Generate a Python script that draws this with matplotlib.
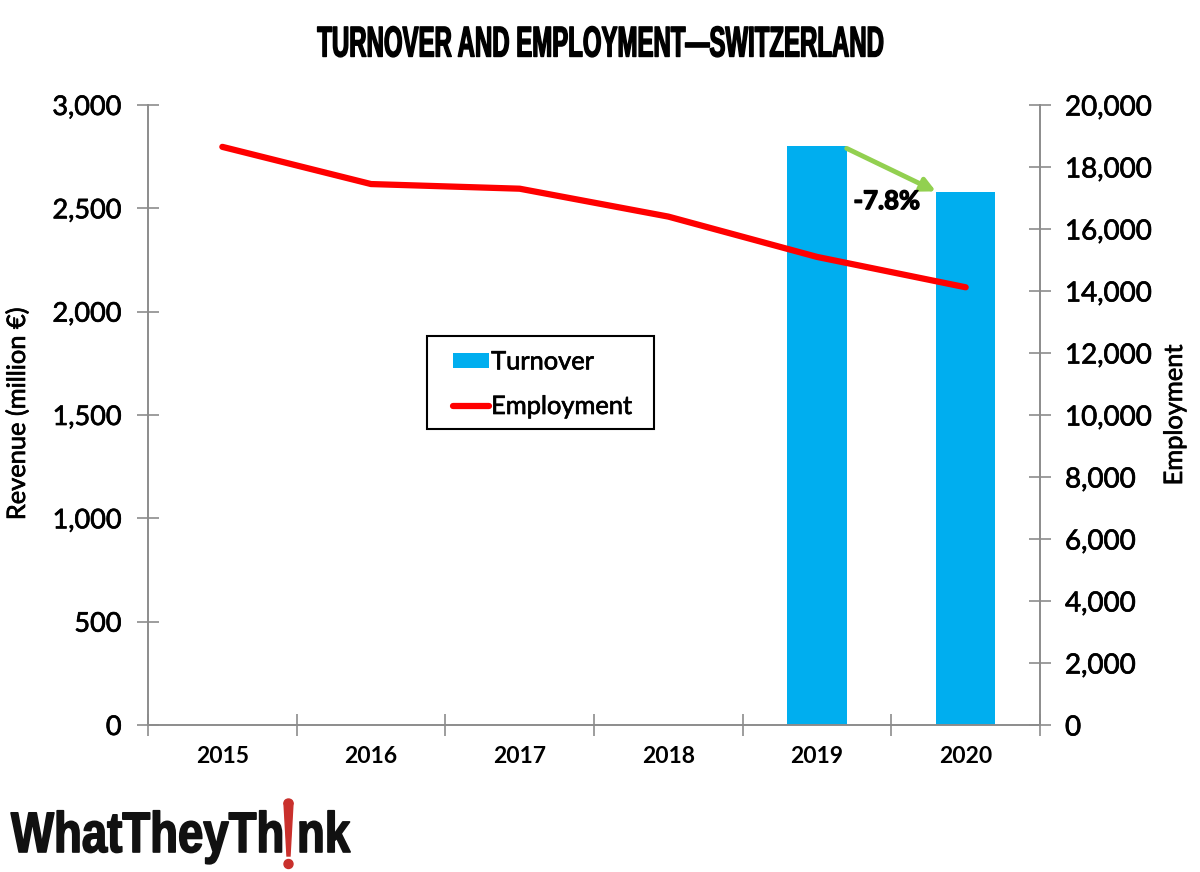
import numpy as np
import matplotlib
matplotlib.use('Agg')
import matplotlib.pyplot as plt
import matplotlib.patheffects as pe
from matplotlib.patches import Ellipse, Polygon, Rectangle
from matplotlib.transforms import Affine2D

years = ['2015', '2016', '2017', '2018', '2019', '2020']
turnover_years = ['2019', '2020']
turnover = [2800, 2580]
employment = [18650, 17450, 17300, 16400, 15100, 14120]
rev_ticks = [0, 500, 1000, 1500, 2000, 2500, 3000]
emp_ticks = [0, 2000, 4000, 6000, 8000, 10000, 12000, 14000, 16000, 18000, 20000]

plt.rcParams['font.family'] = ['Lato', 'DejaVu Sans']
grey = '#8c8c8c'
# thin outline, the regular weight looks too light next to the reference
medium = [pe.withStroke(linewidth=0.5, foreground='black')]


# squeezes a text sideways, no condensed headline font is installed
class Squeeze(pe.AbstractPathEffect):
    def __init__(self, cx, sx, lw):
        super().__init__()
        self.cx = cx
        self.sx = sx
        self.lw = lw

    def draw_path(self, renderer, gc, tpath, affine, rgbFace=None):
        squeeze = Affine2D().translate(-self.cx, 0).scale(self.sx, 1).translate(self.cx, 0)
        gc0 = renderer.new_gc()
        gc0.copy_properties(gc)
        gc0.set_foreground(rgbFace)
        gc0.set_linewidth(self.lw)
        renderer.draw_path(gc0, tpath, affine + squeeze, rgbFace)
        gc0.restore()


fig = plt.figure(figsize=(12, 8.72), dpi=100)
ax = fig.add_axes([148/1200, 1-725/872, (1040-148)/1200, (725-105)/872])
x = np.arange(len(years))
ax.bar([years.index(y) for y in turnover_years], turnover, width=0.4, color='#00aeef', label='Turnover')
ax.set_xlim(-0.5, 5.5)
ax.set_ylim(0, 3000)
ax.set_yticks(rev_ticks)
ax.set_yticklabels([f'{v:,}' for v in rev_ticks], fontsize=19.5, path_effects=medium)
ax.set_xticks(np.arange(-0.5, 6, 1))
ax.set_xticklabels([])
ax.set_xticks(x, minor=True)
ax.set_xticklabels(years, minor=True, fontsize=16.5, fontweight='bold')
ax.tick_params(axis='x', which='minor', length=0, pad=15)
ax.tick_params(axis='x', which='major', direction='inout', length=16, color=grey, width=1.2)
ax.tick_params(axis='y', direction='inout', length=16, color=grey, width=1.2, pad=11)
ax.set_ylabel('Revenue (million €)', fontsize=18.3, path_effects=medium)
ax.yaxis.set_label_coords((29-148)/892, (725-414)/620)
ax.spines['top'].set_visible(False)
for s in ['left', 'right', 'bottom']:
    ax.spines[s].set_color(grey)
    ax.spines[s].set_linewidth(1.2)

ax2 = ax.twinx()
ax2.plot(x, employment, color='#ff0000', lw=4.5, solid_capstyle='round', label='Employment')
ax2.set_ylim(0, 20000)
ax2.set_yticks(emp_ticks)
ax2.set_yticklabels([f'{v:,}' for v in emp_ticks], fontsize=20, path_effects=medium)
ax2.tick_params(axis='y', direction='inout', length=16, color=grey, width=1.2, pad=10)
ax2.set_ylabel('Employment', fontsize=18.3, path_effects=medium)
ax2.yaxis.set_label_coords((1163-148)/892, (725-415)/620)
ax2.spines['top'].set_visible(False)
for s in ['left', 'right', 'bottom']:
    ax2.spines[s].set_color(grey)
    ax2.spines[s].set_linewidth(1.2)

# change arrow between the two bars
ax.annotate('', xy=(4.8, 2582), xytext=(4.2, 2790),
            arrowprops=dict(arrowstyle='-|>', color='#92d050', lw=3.5, mutation_scale=20, shrinkA=0, shrinkB=0))
ax.text(4.47, 2535, '-7.8%', fontsize=18.5, fontweight='bold', ha='center', va='center',
        path_effects=[pe.withStroke(linewidth=1.0, foreground='black')])

# legend frame drawn apart, its padding differs left/right and top/bottom
ax2.add_patch(Rectangle((427/1200, 1-429/872), 227/1200, 93/872, transform=fig.transFigure,
                        facecolor='white', edgecolor='black', lw=1.5, zorder=4, clip_on=False))
h1, l1 = ax.get_legend_handles_labels()
h2, l2 = ax2.get_legend_handles_labels()
leg = ax2.legend(h1 + h2, l1 + l2, loc='lower left', bbox_to_anchor=((453-148)/892, (725-418)/620),
                 borderaxespad=0, frameon=False, handlelength=1.4, handleheight=0.5,
                 handletextpad=0.1, borderpad=0, labelspacing=0.85,
                 prop={'size': 18.3})
for t in leg.get_texts():
    t.set_path_effects(medium)

title_cx = 600
fig.text(title_cx/1200, 1-45.5/872, 'TURNOVER AND EMPLOYMENT—SWITZERLAND', ha='center', va='center',
         fontsize=31, family=['Liberation Sans', 'DejaVu Sans'], fontweight='bold',
         path_effects=[Squeeze(title_cx, 0.557, 1.0)])

# logo, the gap in the text is where the red mark sits
logo_x = 11
fig.text(logo_x/1200, 1-852/872, 'WhatTheyTh nk', fontsize=41, fontweight='bold', va='baseline', ha='left',
         color='#111111', family=['Liberation Sans', 'DejaVu Sans'],
         path_effects=[Squeeze(logo_x, 0.8, 1.2)])
fig.add_artist(Polygon([[284/1200, 1-803/872], [293/1200, 1-803/872], [290/1200, 1-856/872], [287/1200, 1-856/872]],
                       closed=True, color='#c9302c', transform=fig.transFigure))
fig.add_artist(Ellipse((288.5/1200, 1-803/872), 9/1200, 8/872, color='#c9302c', transform=fig.transFigure))
fig.add_artist(Ellipse((288.5/1200, 1-864/872), 9/1200, 9/872, color='#c9302c', transform=fig.transFigure))

fig.savefig('out.png', dpi=100)
